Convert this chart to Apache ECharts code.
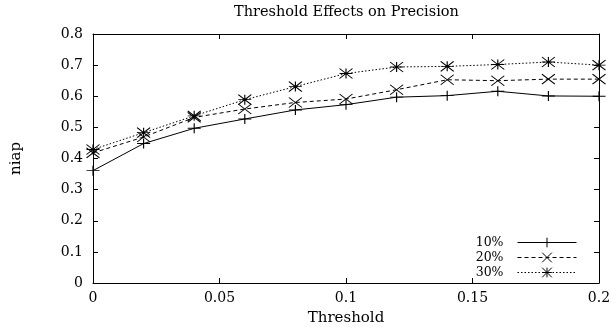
<!DOCTYPE html>
<html><head><meta charset="utf-8">
<script src="https://cdn.jsdelivr.net/npm/echarts@6/dist/echarts.min.js"></script>
<style>html,body{margin:0;padding:0;background:#fff}#c{width:611px;height:327px}</style>
</head><body><div id="c"></div>
<script>
const thresholds = [0, 0.02, 0.04, 0.06, 0.08, 0.1, 0.12, 0.14, 0.16, 0.18, 0.2];
const niap10 = [0.361, 0.448, 0.497, 0.527, 0.556, 0.573, 0.597, 0.602, 0.616, 0.601, 0.600];
const niap20 = [0.418, 0.469, 0.532, 0.559, 0.580, 0.591, 0.621, 0.653, 0.650, 0.655, 0.655];
const niap30 = [0.429, 0.483, 0.537, 0.589, 0.631, 0.673, 0.694, 0.696, 0.702, 0.710, 0.700];
const seriesNames = ['10%', '20%', '30%'];
const titleText = 'Threshold Effects on Precision';
const xName = 'Threshold';
const yName = 'niap';

const FONT = 'DejaVu Serif';
const TITLE_SIZE = 14.5;
const PLUS = 'path://M0,5L10,5M5,0L5,10';
const CROSS = 'path://M0,0L10,10M10,0L0,10';
const STAR = 'path://M0,5L10,5M5,0L5,10M0,0L10,10M10,0L0,10';

// measure title so it can be centred over the plot area
const mctx = document.createElement('canvas').getContext('2d');
mctx.font = TITLE_SIZE + 'px "' + FONT + '"';
const titleW = mctx.measureText(titleText).width;
const plotCenter = 93 + (611 - 93 - 12) / 2;

function mk(name, vals, symbol, dash) {
  return {
    name, type: 'line',
    data: thresholds.map((x, i) => [x, vals[i]]),
    symbol, symbolSize: [13, 10], symbolKeepAspect: false,
    lineStyle: {color: '#000', width: 1, type: dash},
    itemStyle: {color: '#000', borderColor: '#000', borderWidth: 1},
    emphasis: {disabled: true},
    clip: false
  };
}

const axisCommon = {
  axisLine: {show: true, onZero: false, lineStyle: {color: '#000', width: 1}},
  axisTick: {show: true, inside: true, length: 5, lineStyle: {color: '#000', width: 1}},
  splitLine: {show: false}
};

const chart = echarts.init(document.getElementById('c'));
chart.setOption({
  animation: false,
  backgroundColor: '#fff',
  title: {
    text: titleText, left: Math.round(plotCenter - titleW / 2), top: 5, padding: 0,
    textStyle: {fontFamily: FONT, fontSize: TITLE_SIZE, fontWeight: 'normal', color: '#000'}
  },
  grid: {left: 93, right: 12, top: 34, bottom: 44, containLabel: false, outerBoundsMode: 'none'},
  legend: {
    orient: 'vertical', right: 34, top: 236, align: 'right',
    itemWidth: 59, itemHeight: 12, itemGap: 2, padding: 0,
    selectedMode: false, data: seriesNames,
    itemStyle: {color: '#000', borderColor: '#000', borderWidth: 1},
    lineStyle: {width: 1},
    textStyle: {fontFamily: FONT, fontSize: 12.5, color: '#000', padding: [0, 9, 0, 0]}
  },
  xAxis: [
    Object.assign({
      type: 'value', min: 0, max: 0.2, interval: 0.05, position: 'bottom',
      name: xName, nameLocation: 'middle', nameGap: 28,
      nameTextStyle: {fontFamily: FONT, fontSize: 15, color: '#000'},
      axisLabel: {fontFamily: FONT, fontSize: 14, color: '#000', margin: 8}
    }, axisCommon),
    Object.assign({
      type: 'value', min: 0, max: 0.2, interval: 0.05, position: 'top',
      axisLabel: {show: false}
    }, axisCommon)
  ],
  yAxis: [
    Object.assign({
      type: 'value', min: 0, max: 0.8, interval: 0.1, position: 'left',
      name: yName, nameLocation: 'middle', nameGap: 69, nameRotate: 90,
      nameTextStyle: {fontFamily: FONT, fontSize: 15, color: '#000'},
      axisLabel: {fontFamily: FONT, fontSize: 14, color: '#000', margin: 10}
    }, axisCommon),
    Object.assign({
      type: 'value', min: 0, max: 0.8, interval: 0.1, position: 'right',
      axisLabel: {show: false}
    }, axisCommon)
  ],
  series: [
    mk(seriesNames[0], niap10, PLUS, 'solid'),
    mk(seriesNames[1], niap20, CROSS, [4, 3]),
    mk(seriesNames[2], niap30, STAR, [1.5, 2])
  ]
});
</script>
</body></html>
